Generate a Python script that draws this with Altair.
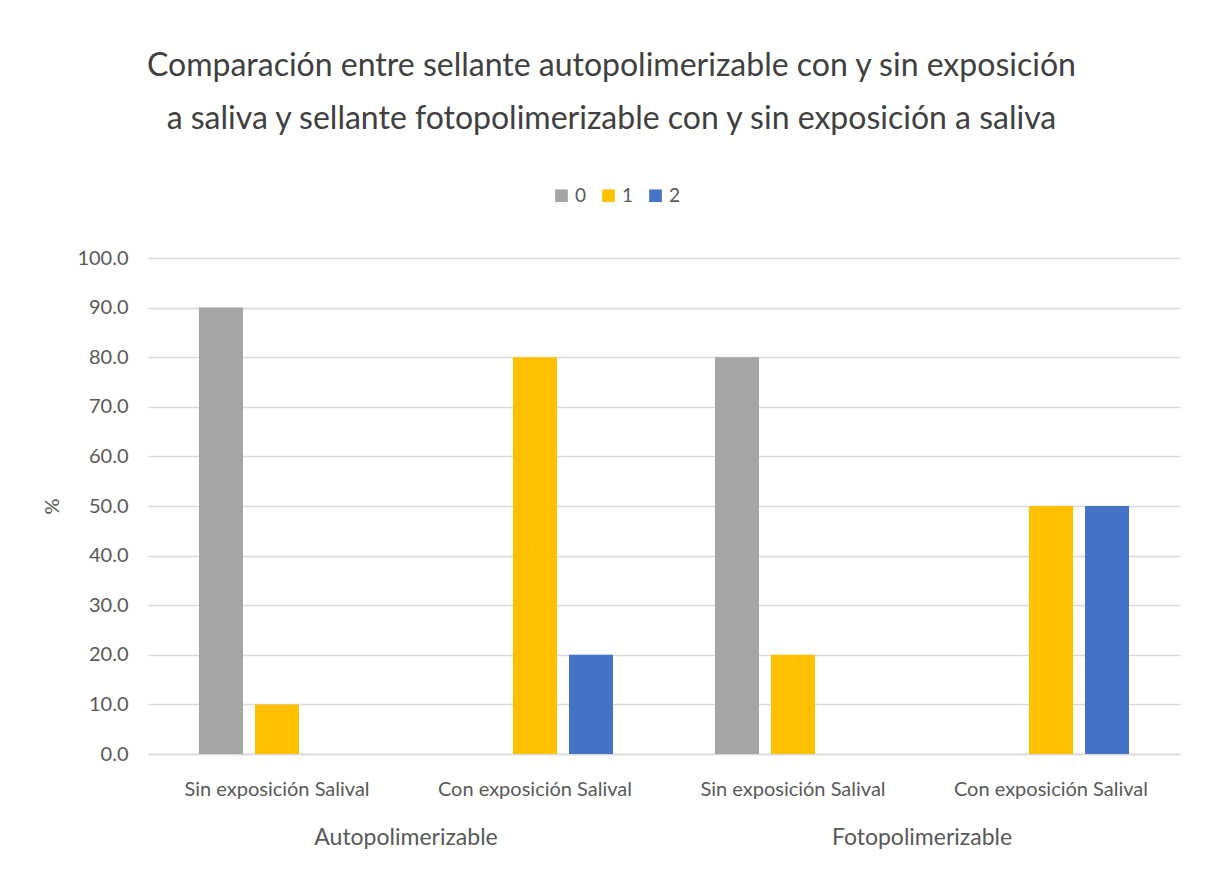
import altair as alt
import pandas as pd

categories = ["Sin exposición Salival", "Con exposición Salival",
              "Sin exposición Salival", "Con exposición Salival"]
groups = ["Autopolimerizable", "Autopolimerizable",
          "Fotopolimerizable", "Fotopolimerizable"]
series_names = ["0", "1", "2"]
s0 = [90.0, 0.0, 80.0, 0.0]
s1 = [10.0, 80.0, 20.0, 50.0]
s2 = [0.0, 20.0, 0.0, 50.0]
colors = ["#A5A5A5", "#FFC000", "#4472C4"]

keys = [f"{g}|{c}" for g, c in zip(groups, categories)]
rows = []
for name, vals in zip(series_names, [s0, s1, s2]):
    for k, v in zip(keys, vals):
        rows.append({"key": k, "serie": name, "value": v})
df = pd.DataFrame(rows)

group_names = ["Autopolimerizable", "Fotopolimerizable"]
group_first_key = [keys[0], keys[2]]
gdf = pd.DataFrame({"key": group_first_key, "label": group_names})

W, H = 1032, 496
TEXT = "#595959"

xscale = alt.Scale(domain=keys, paddingInner=0, paddingOuter=0)

bars = alt.Chart(df).mark_bar().encode(
    x=alt.X("key:N", scale=xscale, sort=keys,
            axis=alt.Axis(title=None, labelExpr="split(datum.label, '|')[1]",
                          labelAngle=0, labelFont="Lato",
                          labelFontSize=20, labelColor=TEXT, labelPadding=25,
                          ticks=False, domainColor="#D9D9D9", domainWidth=1.5,
                          labelLimit=400)),
    xOffset=alt.XOffset("serie:N", sort=series_names,
                        scale=alt.Scale(paddingInner=0.214, paddingOuter=0.91)),
    y=alt.Y("value:Q", scale=alt.Scale(domain=[0, 100]),
            axis=alt.Axis(title="%", values=list(range(0, 101, 10)),
                          labelExpr="format(datum.value, '.1f')",
                          labelFont="Lato", labelFontSize=20, labelColor=TEXT,
                          labelPadding=20, ticks=False, domain=False,
                          gridColor="#D9D9D9", gridWidth=1.5,
                          titleFont="Lato", titleFontSize=20, titleColor=TEXT,
                          titleFontWeight="normal", titlePadding=14)),
    color=alt.Color("serie:N", sort=series_names,
                    scale=alt.Scale(domain=series_names, range=colors),
                    legend=alt.Legend(title=None, orient="none", direction="horizontal",
                                      legendX=404, legendY=-72,
                                      symbolType="square", symbolSize=160,
                                      symbolStrokeWidth=0, labelFont="Lato",
                                      labelFontSize=19, labelColor=TEXT,
                                      columnPadding=12, labelOffset=4)),
)

glabels = alt.Chart(gdf).mark_text(
    font="Lato", fontSize=23, color=TEXT, baseline="middle", align="center"
).encode(
    x=alt.X("key:N", scale=xscale, bandPosition=1),
    y=alt.value(H + 84),
    text="label:N",
)

chart = alt.layer(bars, glabels).properties(
    width=W, height=H,
    title=alt.TitleParams(
        text=["Comparación entre sellante autopolimerizable con y sin exposición",
              "a saliva y sellante fotopolimerizable con y sin exposición a saliva"],
        font="Lato", fontSize=32, fontWeight="normal", color="#404040",
        anchor="middle", frame="bounds", lineHeight=53, offset=50),
    autosize=alt.AutoSizeParams(type="none"),
    padding={"left": 148, "top": 258, "right": 25, "bottom": 141},
).configure(background="white").configure_view(stroke=None)

chart.save("out.html", embed_options={"renderer": "svg", "actions": False})
